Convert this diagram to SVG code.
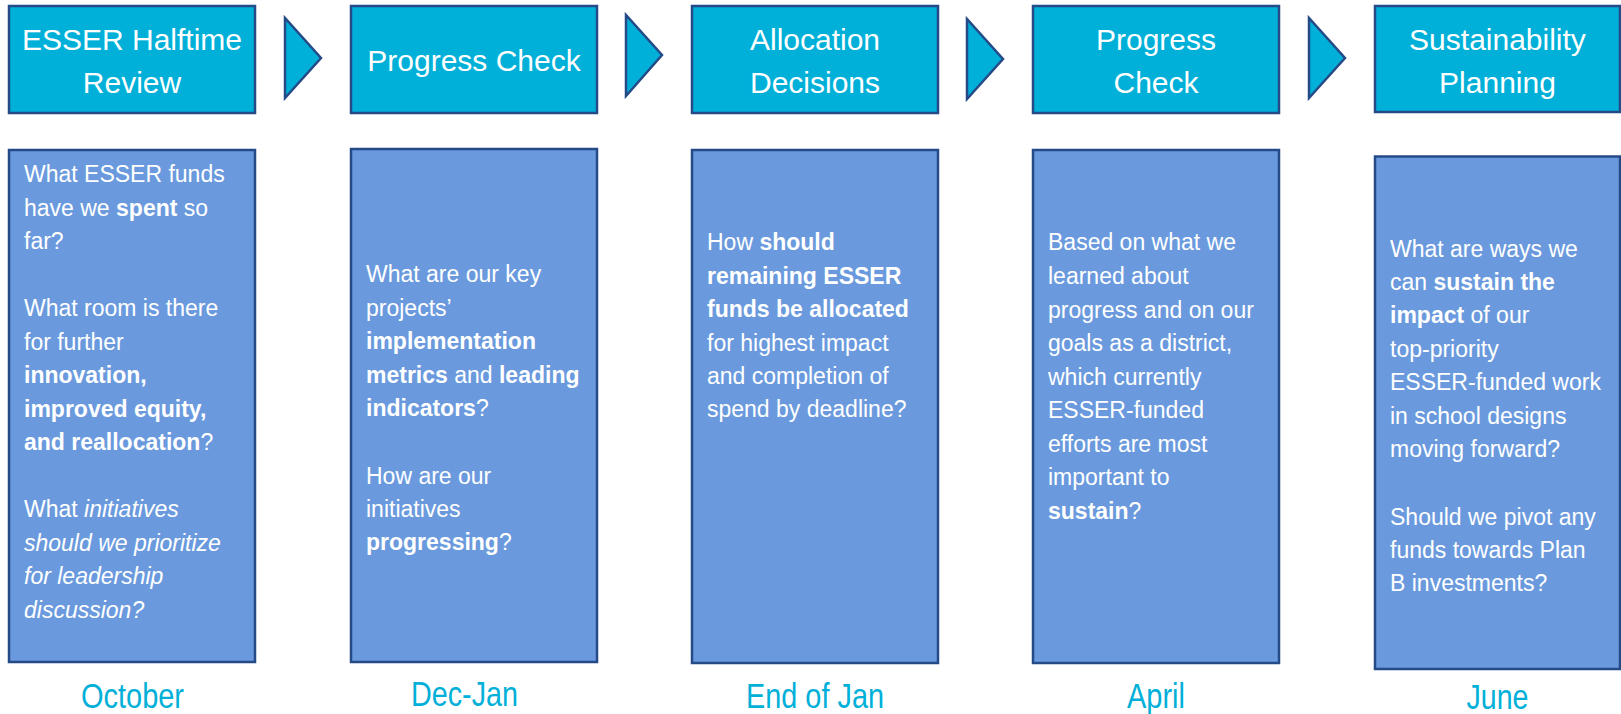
<svg xmlns="http://www.w3.org/2000/svg" width="1621" height="714" viewBox="0 0 1621 714">
<style>
.hdr{fill:#00B0D8;stroke:#254A88;stroke-width:2.5}
.body{fill:#6A9ADD;stroke:#254A88;stroke-width:2.5}
.arr{fill:#00B0D8;stroke:#254A88;stroke-width:2.5;stroke-linejoin:miter}
.ht{font-family:"Liberation Sans",Arial,sans-serif;font-size:30px;fill:#fff;text-anchor:middle}
.bt{font-family:"Liberation Sans",Arial,sans-serif;font-size:23px;fill:#fff}
.lbl{font-family:"Liberation Sans",Arial,sans-serif;font-size:35px;fill:#00B0D8;text-anchor:middle}
.b{font-weight:bold}
.i{font-style:italic}
</style>
<rect width="1621" height="714" fill="#ffffff"/>
<g id="connectors">
<polygon class="arr" points="285,18 285,98 321,58"/>
<polygon class="arr" points="626,15 626,96 662,55"/>
<polygon class="arr" points="967,19 967,99 1003,59"/>
<polygon class="arr" points="1309,18 1309,98 1345,58"/>
</g>
<g id="stage1">
<rect class="hdr" x="9" y="6" width="246" height="107"/>
<text class="ht" x="132" y="50">ESSER Halftime</text>
<text class="ht" x="132" y="93">Review</text>
<rect class="body" x="9" y="150" width="246" height="512"/>
<text class="bt">
<tspan x="24" y="182">What ESSER funds</tspan>
<tspan x="24" y="215.5">have we <tspan class="b">spent</tspan> so</tspan>
<tspan x="24" y="249">far?</tspan>
<tspan x="24" y="316">What room is there</tspan>
<tspan x="24" y="349.5">for further</tspan>
<tspan x="24" y="383" class="b">innovation,</tspan>
<tspan x="24" y="416.5" class="b">improved equity,</tspan>
<tspan x="24" y="450"><tspan class="b">and reallocation</tspan>?</tspan>
<tspan x="24" y="517">What <tspan class="i">initiatives</tspan></tspan>
<tspan x="24" y="550.5" class="i">should we prioritize</tspan>
<tspan x="24" y="584" class="i">for leadership</tspan>
<tspan x="24" y="617.5" class="i">discussion?</tspan>
</text>
<text class="lbl" x="132.5" y="708" textLength="103" lengthAdjust="spacingAndGlyphs">October</text>
</g>
<g id="stage2">
<rect class="hdr" x="351" y="6" width="246" height="107"/>
<text class="ht" x="474" y="71">Progress Check</text>
<rect class="body" x="351" y="149" width="246" height="513"/>
<text class="bt">
<tspan x="366" y="282">What are our key</tspan>
<tspan x="366" y="316">projects’</tspan>
<tspan x="366" y="349" class="b">implementation</tspan>
<tspan x="366" y="383"><tspan class="b">metrics</tspan> and <tspan class="b">leading</tspan></tspan>
<tspan x="366" y="416"><tspan class="b">indicators</tspan>?</tspan>
<tspan x="366" y="484">How are our</tspan>
<tspan x="366" y="517">initiatives</tspan>
<tspan x="366" y="550"><tspan class="b">progressing</tspan>?</tspan>
</text>
<text class="lbl" x="464.5" y="706" textLength="107" lengthAdjust="spacingAndGlyphs">Dec-Jan</text>
</g>
<g id="stage3">
<rect class="hdr" x="692" y="6" width="246" height="107"/>
<text class="ht" x="815" y="50">Allocation</text>
<text class="ht" x="815" y="93">Decisions</text>
<rect class="body" x="692" y="150" width="246" height="513"/>
<text class="bt">
<tspan x="707" y="250">How <tspan class="b">should</tspan></tspan>
<tspan x="707" y="283.5" class="b">remaining ESSER</tspan>
<tspan x="707" y="317" class="b">funds be allocated</tspan>
<tspan x="707" y="350.5">for highest impact</tspan>
<tspan x="707" y="384">and completion of</tspan>
<tspan x="707" y="417">spend by deadline?</tspan>
</text>
<text class="lbl" x="815" y="708" textLength="138" lengthAdjust="spacingAndGlyphs">End of Jan</text>
</g>
<g id="stage4">
<rect class="hdr" x="1033" y="6" width="246" height="107"/>
<text class="ht" x="1156" y="50">Progress</text>
<text class="ht" x="1156" y="93">Check</text>
<rect class="body" x="1033" y="150" width="246" height="513"/>
<text class="bt">
<tspan x="1048" y="250">Based on what we</tspan>
<tspan x="1048" y="284">learned about</tspan>
<tspan x="1048" y="317.5">progress and on our</tspan>
<tspan x="1048" y="351">goals as a district,</tspan>
<tspan x="1048" y="384.5">which currently</tspan>
<tspan x="1048" y="418">ESSER-funded</tspan>
<tspan x="1048" y="452">efforts are most</tspan>
<tspan x="1048" y="485">important to</tspan>
<tspan x="1048" y="519"><tspan class="b">sustain</tspan>?</tspan>
</text>
<text class="lbl" x="1156" y="708" textLength="58" lengthAdjust="spacingAndGlyphs">April</text>
</g>
<g id="stage5">
<rect class="hdr" x="1375" y="6" width="245" height="106"/>
<text class="ht" x="1497.5" y="50">Sustainability</text>
<text class="ht" x="1497.5" y="93">Planning</text>
<rect class="body" x="1375" y="156.5" width="245" height="512.5"/>
<text class="bt">
<tspan x="1390" y="256.5">What are ways we</tspan>
<tspan x="1390" y="290">can <tspan class="b">sustain the</tspan></tspan>
<tspan x="1390" y="323"><tspan class="b">impact</tspan> of our</tspan>
<tspan x="1390" y="356.5">top-priority</tspan>
<tspan x="1390" y="390">ESSER-funded work</tspan>
<tspan x="1390" y="423.5">in school designs</tspan>
<tspan x="1390" y="457">moving forward?</tspan>
<tspan x="1390" y="524.5">Should we pivot any</tspan>
<tspan x="1390" y="557.5">funds towards Plan</tspan>
<tspan x="1390" y="591">B investments?</tspan>
</text>
<text class="lbl" x="1497.5" y="709" textLength="62" lengthAdjust="spacingAndGlyphs">June</text>
</g>
</svg>
